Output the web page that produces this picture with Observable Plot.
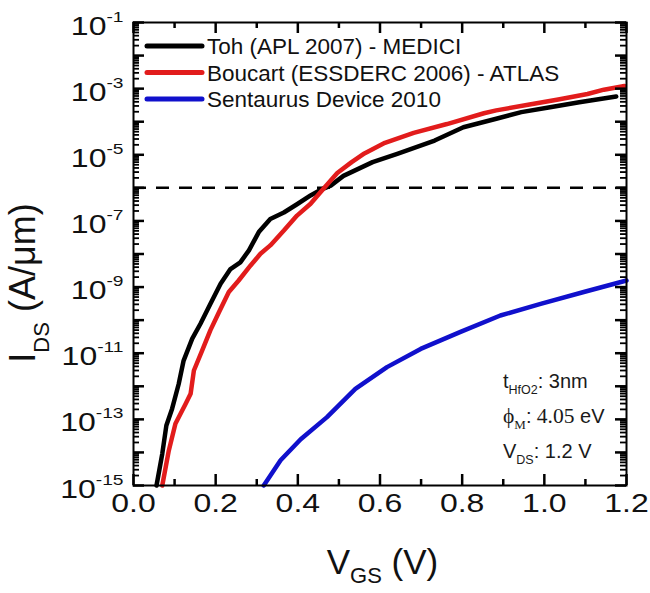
<!DOCTYPE html>
<html>
<head>
<meta charset="utf-8">
<script src="https://cdn.jsdelivr.net/npm/d3@7"></script>
<script src="https://cdn.jsdelivr.net/npm/@observablehq/plot@0.6"></script>
<style>
  html, body { margin: 0; padding: 0; background: #fff; }
</style>
</head>
<body>
<div id="chart"></div>
<script>
// ---------- data ----------
const seriesNames = ["Toh (APL 2007) - MEDICI", "Boucart (ESSDERC 2006) - ATLAS", "Sentaurus Device 2010"];
const seriesColors = ["#000000", "#e21c1c", "#1010cc"];

const tohVgs = [0.056, 0.070, 0.080, 0.094, 0.110, 0.122, 0.143, 0.163, 0.187, 0.212, 0.236, 0.260, 0.281, 0.305, 0.333, 0.366, 0.398, 0.431, 0.455, 0.480, 0.511, 0.582, 0.642, 0.733, 0.803, 0.883, 0.944, 1.014, 1.085, 1.175];
const tohIds = [1.0e-15, 9.1e-15, 6.5e-14, 2.1e-13, 1.17e-12, 6.0e-12, 2.75e-11, 7.8e-11, 3.1e-10, 1.26e-9, 3.5e-9, 5.6e-9, 1.29e-8, 4.6e-8, 1.15e-7, 1.8e-7, 3.2e-7, 5.9e-7, 8.7e-7, 1.17e-6, 2.3e-6, 6.0e-6, 1.07e-5, 2.7e-5, 6.8e-5, 1.23e-4, 1.95e-4, 2.75e-4, 3.9e-4, 5.75e-4];

const boucartVgs = [0.070, 0.086, 0.102, 0.127, 0.139, 0.147, 0.167, 0.187, 0.208, 0.232, 0.256, 0.285, 0.309, 0.333, 0.366, 0.398, 0.431, 0.455, 0.480, 0.496, 0.531, 0.562, 0.612, 0.682, 0.763, 0.853, 0.883, 0.964, 1.034, 1.105, 1.145, 1.195];
const boucartIds = [1.0e-15, 1.15e-14, 7.4e-14, 2.95e-13, 5.9e-13, 3.0e-12, 1.2e-11, 4.9e-11, 1.74e-10, 7.1e-10, 1.58e-9, 4.5e-9, 1.02e-8, 1.82e-8, 5.1e-8, 1.45e-7, 3.3e-7, 7.4e-7, 1.66e-6, 2.8e-6, 6.0e-6, 1.1e-5, 2.3e-5, 4.6e-5, 8.5e-5, 1.8e-4, 2.2e-4, 3.3e-4, 4.7e-4, 6.9e-4, 9.3e-4, 1.2e-3];

const sentaurusVgs = [0.317, 0.358, 0.407, 0.471, 0.540, 0.617, 0.699, 0.796, 0.893, 0.991, 1.096, 1.200];
const sentaurusIds = [1.0e-15, 5.8e-15, 2.5e-14, 1.17e-13, 8.3e-13, 3.8e-12, 1.35e-11, 4.4e-11, 1.38e-10, 3.1e-10, 7.1e-10, 1.58e-9];

const thresholdCurrent = [1e-6];

const xDomain = [0, 1.2];
const yDomain = [1e-15, 1e-1];
const xMajorTicks = [0, 0.2, 0.4, 0.6, 0.8, 1.0, 1.2];
const xMinorTicks = [0.1, 0.3, 0.5, 0.7, 0.9, 1.1];
const yDecadeExponents = d3.range(-15, 0);            // -15 .. -1
const yLabelExponents = [-1, -3, -5, -7, -9, -11, -13, -15];
const yMinorMultipliers = [2, 3, 4, 5, 6, 7, 8, 9];

const xTitle = ["V", "GS", " (V)"];
const yTitle = ["I", "DS", " (A/\u03bcm)"];

const annotationLines = [
  [{t: "t", f: "sans"}, {t: "HfO2", f: "sans", sub: true}, {t: ": 3nm", f: "sans"}],
  [{t: "\u03d5", f: "serif"}, {t: "M", f: "serif", sub: true}, {t: ":", f: "sans"}, {t: " 4.05", f: "serif"}, {t: " eV", f: "sans"}],
  [{t: "V", f: "sans"}, {t: "DS", f: "sans", sub: true}, {t: ": 1.2 V", f: "sans"}]
];

// ---------- derived tables ----------
const rows = [
  ...tohVgs.map((v, i) => ({series: seriesNames[0], vgs: v, ids: tohIds[i]})),
  ...boucartVgs.map((v, i) => ({series: seriesNames[1], vgs: v, ids: boucartIds[i]})),
  ...sentaurusVgs.map((v, i) => ({series: seriesNames[2], vgs: v, ids: sentaurusIds[i]}))
];
const yMajorTicks = yDecadeExponents.map(e => Math.pow(10, e));
const yMinorTicks = yDecadeExponents.filter(e => e < -1)
  .flatMap(e => yMinorMultipliers.map(k => k * Math.pow(10, e)));

// ---------- layout ----------
const W = 650, H = 593, mL = 133, mR = 24, mT = 22, mB = 108;
const frameW = W - mL - mR, frameH = H - mT - mB;
const majorLen = 11, minorLen = 6;

const SANS = "'Liberation Sans', Arial, Helvetica, sans-serif";
const SERIF = "'Liberation Serif', 'Times New Roman', serif";
const labelStretch = 1.28;

// inward tick helpers (drawn from the top / right edges, shifted for bottom / left)
const topTicks = (vals, len, sw) => Plot.tickX(vals, {x: d => d, stroke: "#000", strokeWidth: sw, insetBottom: frameH - len});
const bottomTicks = (vals, len, sw) => Plot.tickX(vals, {x: d => d, stroke: "#000", strokeWidth: sw, insetBottom: frameH - len, dy: frameH - len});
const rightTicks = (vals, len, sw) => Plot.tickY(vals, {y: d => d, stroke: "#000", strokeWidth: sw, insetLeft: frameW - len});
const leftTicks = (vals, len, sw) => Plot.tickY(vals, {y: d => d, stroke: "#000", strokeWidth: sw, insetLeft: frameW - len, dx: -(frameW - len)});

function legendBox(index, scales, values, dim) {
  const L = dim.marginLeft, T = dim.marginTop;
  const g = d3.create("svg:g").attr("text-anchor", "start");
  seriesNames.forEach((name, i) => {
    const cy = T + 24 + i * 26.5;
    g.append("line").attr("x1", L + 14).attr("x2", L + 69).attr("y1", cy).attr("y2", cy)
      .attr("stroke", seriesColors[i]).attr("stroke-width", 5).attr("stroke-linecap", "round");
    g.append("text").attr("x", L + 74).attr("y", cy).attr("dy", "0.36em").attr("text-anchor", "start")
      .attr("font-family", SANS).attr("font-size", 22.5).attr("fill", "#111").text(name);
  });
  return g.node();
}

function annotationBox(index, scales, values, dim) {
  const R = dim.width - dim.marginRight, B = dim.height - dim.marginBottom;
  const g = d3.create("svg:g").attr("fill", "#1a1a1a").attr("text-anchor", "start");
  const baselines = [B - 97, B - 62, B - 27];
  annotationLines.forEach((parts, li) => {
    const t = g.append("text").attr("x", R - 123).attr("y", baselines[li]).attr("text-anchor", "start");
    let shifted = 0;
    for (const p of parts) {
      const ts = t.append("tspan").text(p.t).attr("font-family", p.f === "serif" ? SERIF : SANS);
      if (p.sub) {
        ts.attr("font-size", p.f === "serif" ? 13 : 12.5).attr("dy", 6);
        shifted = 6;
      } else {
        ts.attr("font-size", p.f === "serif" ? 21.5 : 20);
        if (shifted) { ts.attr("dy", -shifted); shifted = 0; }
      }
    }
  });
  return g.node();
}

function axisTitles(index, scales, values, dim) {
  const L = dim.marginLeft, R = dim.width - dim.marginRight;
  const g = d3.create("svg:g").attr("font-family", SANS).attr("fill", "#111");
  const xt = g.append("text").attr("x", (L + R) / 2 + 3).attr("y", dim.height - 19)
    .attr("text-anchor", "middle").attr("font-size", 35);
  xt.append("tspan").text(xTitle[0]);
  xt.append("tspan").text(xTitle[1]).attr("font-size", 22).attr("dy", 9);
  xt.append("tspan").text(xTitle[2]).attr("dy", -9);
  const yt = g.append("text").attr("transform", `translate(35,283) rotate(-90)`)
    .attr("text-anchor", "middle").attr("font-size", 36);
  yt.append("tspan").text(yTitle[0]);
  yt.append("tspan").text(yTitle[1]).attr("font-size", 22).attr("dy", 14);
  yt.append("tspan").text(yTitle[2]).attr("dy", -14);
  return g.node();
}

const chart = Plot.plot({
  width: W, height: H, marginLeft: mL, marginRight: mR, marginTop: mT, marginBottom: mB,
  style: {fontFamily: SANS, background: "#fff", color: "#000", overflow: "visible"},
  x: {domain: xDomain},
  y: {type: "log", domain: yDomain},
  color: {domain: seriesNames, range: seriesColors},
  marks: [
    Plot.ruleY(thresholdCurrent, {stroke: "#000", strokeWidth: 2.5, strokeDasharray: "13,10"}),
    Plot.line(rows, {x: "vgs", y: "ids", z: "series", stroke: "series", strokeWidth: 4.5, strokeLinejoin: "round"}),
    topTicks(xMajorTicks, majorLen, 2.5),
    bottomTicks(xMajorTicks, majorLen, 2.5),
    topTicks(xMinorTicks, minorLen, 2.5),
    bottomTicks(xMinorTicks, minorLen, 2.5),
    rightTicks(yMajorTicks, majorLen, 2.5),
    leftTicks(yMajorTicks, majorLen, 2.5),
    rightTicks(yMinorTicks, minorLen, 1.8),
    leftTicks(yMinorTicks, minorLen, 1.8),
    Plot.axisX({ticks: xMajorTicks, tickSize: 0, tickPadding: 0, tickFormat: d3.format(".1f"), fontSize: 25, label: null}),
    Plot.axisY({ticks: yLabelExponents.map(e => Math.pow(10, e)), tickSize: 0, tickPadding: 10,
      tickFormat: d => String(Math.round(Math.log10(d))), fontSize: 25, label: null}),
    Plot.frame({stroke: "#000", strokeWidth: 2}),
    legendBox,
    annotationBox,
    axisTitles
  ]
});

// tick-label typography: widened digits and superscript exponents
d3.select(chart).selectAll("g[aria-label='x-axis tick label'] text").each(function () {
  const tr = this.getAttribute("transform") || "";
  this.setAttribute("transform", tr + ` scale(${labelStretch},1)`);
  this.setAttribute("y", 27);
  this.setAttribute("fill", "#111");
});
d3.select(chart).selectAll("g[aria-label='y-axis tick label'] text").each(function () {
  const exp = this.textContent;
  this.textContent = "";
  const sel = d3.select(this);
  sel.append("tspan").text("10");
  sel.append("tspan").text(exp).attr("font-size", 15).attr("dy", -13);
  const tr = this.getAttribute("transform") || "";
  this.setAttribute("transform", tr + ` scale(${labelStretch},1)`);
  this.setAttribute("y", 12);
  this.setAttribute("fill", "#111");
});

document.getElementById("chart").appendChild(chart);
</script>
</body>
</html>
